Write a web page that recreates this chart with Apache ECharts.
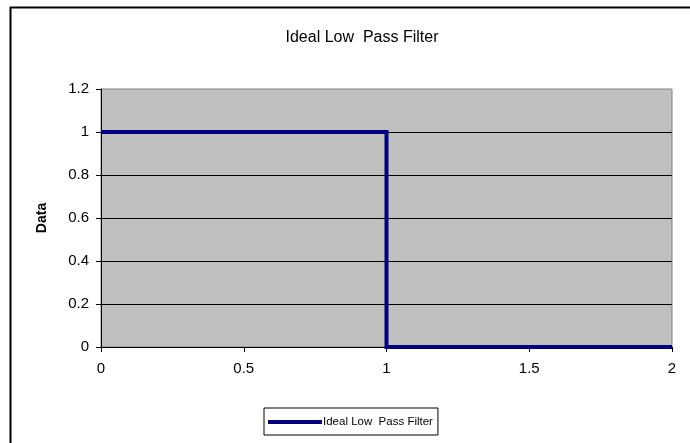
<!DOCTYPE html>
<html>
<head>
<meta charset="utf-8">
<script src="https://cdn.jsdelivr.net/npm/echarts@6/dist/echarts.min.js"></script>
<style>
  html, body { margin: 0; padding: 0; background: #fff; }
  #chart { width: 690px; height: 443px; }
</style>
</head>
<body>
<div id="chart"></div>
<script>
// Frequency response of an ideal low-pass filter (cutoff at 1)
const seriesName = 'Ideal Low  Pass Filter';
const freq = [0, 0.1, 0.9, 1, 1, 2];
const gain = [1, 1, 1, 1, 0, 0];
const yTicks = [0, 0.2, 0.4, 0.6, 0.8, 1, 1.2];
const xTicks = [0, 0.5, 1, 1.5, 2];

const points = freq.map((f, i) => [f, gain[i]]);
const font = '"Liberation Sans", Arial, sans-serif';

const chart = echarts.init(document.getElementById('chart'), null, { renderer: 'canvas' });
chart.setOption({
  animation: false,
  backgroundColor: '#fff',
  textStyle: { fontFamily: font },
  title: {
    text: seriesName,
    left: 357,
    top: 25,
    textAlign: 'center',
    textStyle: { fontFamily: font, fontSize: 16, fontWeight: 'normal', color: '#000' }
  },
  graphic: [{
    type: 'rect',
    shape: { x: 10.5, y: 7.5, width: 690, height: 440 },
    style: { fill: 'none', stroke: '#000', lineWidth: 2 },
    silent: true
  }],
  grid: {
    left: 101, right: 18, top: 89, bottom: 96,
    show: true,
    backgroundColor: '#C0C0C0',
    borderColor: '#808080',
    borderWidth: 1
  },
  xAxis: {
    type: 'value',
    min: xTicks[0],
    max: xTicks[xTicks.length - 1],
    interval: 0.5,
    axisLine: { show: true, lineStyle: { color: '#000', width: 1 } },
    axisTick: { show: true, length: 5, inside: false, lineStyle: { color: '#000' } },
    axisLabel: { color: '#000', fontSize: 15, fontFamily: font, margin: 14 },
    splitLine: { show: false }
  },
  yAxis: {
    type: 'value',
    min: yTicks[0],
    max: yTicks[yTicks.length - 1],
    interval: 0.2,
    name: 'Data',
    nameLocation: 'middle',
    nameGap: 52,
    nameRotate: 90,
    nameTextStyle: { color: '#000', fontSize: 14, fontWeight: 'bold', fontFamily: font },
    axisLine: { show: true, lineStyle: { color: '#000', width: 1 } },
    axisTick: { show: true, length: 5, inside: false, lineStyle: { color: '#000' } },
    axisLabel: { color: '#000', fontSize: 15, fontFamily: font, margin: 12,
      formatter: v => String(Math.round(v * 10) / 10) },
    splitLine: { show: true, showMinLine: false, showMaxLine: false, lineStyle: { color: '#000', width: 1 } }
  },
  legend: {
    data: [seriesName],
    left: 264,
    top: 408,
    orient: 'horizontal',
    borderColor: '#000',
    borderWidth: 1,
    padding: [8, 5, 7, 4],
    itemWidth: 54,
    itemHeight: 14,
    itemGap: 4,
    icon: 'path://M0,5.5 L54,5.5 L54,9.5 L0,9.5 Z',
    textStyle: { color: '#000', fontSize: 11.5, fontFamily: font, padding: [0, 0, 0, -4] }
  },
  series: [{
    name: seriesName,
    type: 'line',
    data: points,
    symbol: 'none',
    showSymbol: false,
    lineStyle: { color: '#000080', width: 4, cap: 'butt', join: 'miter' },
    itemStyle: { color: '#000080' },
    clip: false
  }]
});
</script>
</body>
</html>
